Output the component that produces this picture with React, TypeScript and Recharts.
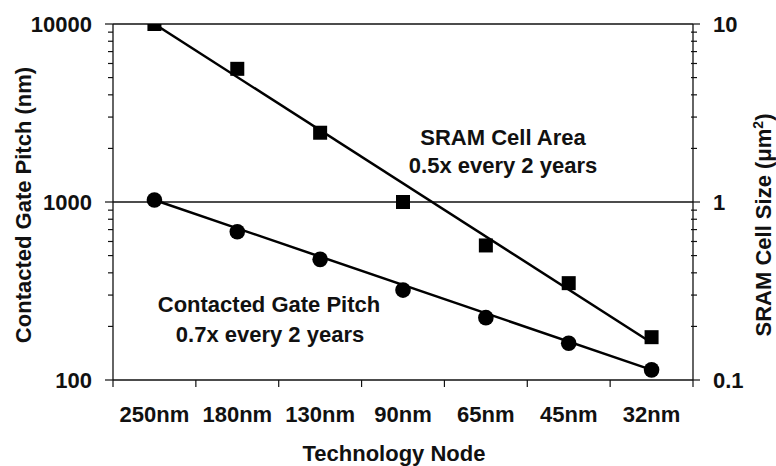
import { LineChart, Line, XAxis, YAxis, ReferenceLine } from "recharts";

const nodes = ["250nm", "180nm", "130nm", "90nm", "65nm", "45nm", "32nm"];
// SRAM cell size (um^2), right axis
const sramCellSize = [10, 5.6, 2.45, 1.0, 0.57, 0.35, 0.174];
// contacted gate pitch (nm), left axis
const gatePitch = [1026, 681, 476, 320, 224, 161, 114];
// fitted trend lines, only the end points
const sramTrend = [10, null, null, null, null, null, 0.162];
const pitchTrend = [1026, null, null, null, null, null, 114];

const pitchTicks = [100, 200, 300, 400, 500, 600, 700, 800, 900, 1000, 2000, 3000, 4000, 5000, 6000, 7000, 8000, 9000, 10000];
const sizeTicks = [0.1, 0.2, 0.3, 0.4, 0.5, 0.6, 0.7, 0.8, 0.9, 1, 2, 3, 4, 5, 6, 7, 8, 9, 10];
const nodeTicks = [-0.5, 0, 0.5, 1, 1.5, 2, 2.5, 3, 3.5, 4, 4.5, 5, 5.5, 6, 6.5];

const data = nodes.map((n, i) => ({
  i,
  sram: sramCellSize[i],
  pitch: gatePitch[i],
  sramFit: sramTrend[i],
  pitchFit: pitchTrend[i],
}));

const FONT = "'Liberation Sans', Arial, sans-serif";
const INK = "#111";
const FS = 22;

const isDecade = (v: number) => Math.abs(Math.log10(v) - Math.round(Math.log10(v))) < 1e-9;

const LeftTick = (props: any) => {
  const { x, y, payload } = props;
  const v = payload.value;
  const major = isDecade(v);
  return (
    <g>
      <line x1={x - (major ? 8 : 5)} x2={x} y1={y} y2={y} stroke={INK} strokeWidth={1.2} />
      {major && (
        <text x={x - 21} y={y} dy="0.36em" textAnchor="end" fontFamily={FONT} fontWeight="bold" fontSize={FS} fill={INK}>
          {v}
        </text>
      )}
    </g>
  );
};

const RightTick = (props: any) => {
  const { x, y, payload } = props;
  const v = payload.value;
  const major = isDecade(v);
  return (
    <g>
      <line x1={major ? x : x - 2} x2={major ? x + 7 : x + 4} y1={y} y2={y} stroke={INK} strokeWidth={1.2} />
      {major && (
        <text x={x + 20} y={y} dy="0.36em" textAnchor="start" fontFamily={FONT} fontWeight="bold" fontSize={FS} fill={INK}>
          {v}
        </text>
      )}
    </g>
  );
};

const BottomTick = (props: any) => {
  const { x, y, payload } = props;
  const v = payload.value;
  if (!Number.isInteger(v)) {
    return <line x1={x} x2={x} y1={y} y2={y + 7} stroke={INK} strokeWidth={1.2} />;
  }
  return (
    <text x={x} y={y + 42} textAnchor="middle" fontFamily={FONT} fontWeight="bold" fontSize={FS} fill={INK}>
      {nodes[v]}
    </text>
  );
};

const Square = (props: any) => {
  const { cx, cy, index } = props;
  if (cx == null || cy == null) return <g key={index} />;
  return <rect key={index} x={cx - 7} y={cy - 7} width={14} height={14} fill="#000" />;
};

const Circle = (props: any) => {
  const { cx, cy, index } = props;
  if (cx == null || cy == null) return <g key={index} />;
  return <circle key={index} cx={cx} cy={cy} r={7.8} fill="#000" />;
};

const txt = { fontFamily: FONT, fontWeight: "bold" as const, fontSize: FS, fill: INK };

export default function App() {
  return (
    <div style={{ position: "absolute", left: 0, top: 0, width: 776, height: 466, background: "#fff" }}>
      <LineChart width={776} height={466} data={data} margin={{ top: 24, right: 0, bottom: 0, left: 0 }}>
        <XAxis
          dataKey="i"
          type="number"
          domain={[-0.5, 6.5]}
          ticks={nodeTicks}
          interval={0}
          height={86}
          tickSize={0}
          tickMargin={0}
          tickLine={false}
          tick={<BottomTick />}
          axisLine={{ stroke: INK, strokeWidth: 1.3 }}
        />
        <YAxis
          yAxisId="pitch"
          scale="log"
          domain={[100, 10000]}
          allowDataOverflow
          ticks={pitchTicks}
          interval={0}
          width={113}
          tickSize={0}
          tickMargin={0}
          tickLine={false}
          tick={<LeftTick />}
          axisLine={{ stroke: INK, strokeWidth: 1.3 }}
        />
        <YAxis
          yAxisId="sram"
          orientation="right"
          scale="log"
          domain={[0.1, 10]}
          allowDataOverflow
          ticks={sizeTicks}
          interval={0}
          width={83}
          tickSize={0}
          tickMargin={0}
          tickLine={false}
          tick={<RightTick />}
          axisLine={{ stroke: INK, strokeWidth: 1.3 }}
        />
        <ReferenceLine yAxisId="pitch" y={10000} stroke={INK} strokeWidth={1.3} />
        <ReferenceLine yAxisId="pitch" y={1000} stroke={INK} strokeWidth={1.3} />

        <Line yAxisId="sram" dataKey="sramFit" connectNulls stroke="#000" strokeWidth={2.5} dot={false} activeDot={false} isAnimationActive={false} />
        <Line yAxisId="pitch" dataKey="pitchFit" connectNulls stroke="#000" strokeWidth={2.5} dot={false} activeDot={false} isAnimationActive={false} />
        <Line yAxisId="sram" dataKey="sram" stroke="none" dot={<Square />} activeDot={false} isAnimationActive={false} />
        <Line yAxisId="pitch" dataKey="pitch" stroke="none" dot={<Circle />} activeDot={false} isAnimationActive={false} />

        <text x={503} y={145} textAnchor="middle" {...txt}>SRAM Cell Area</text>
        <text x={503} y={173} textAnchor="middle" {...txt}>0.5x every 2 years</text>
        <text x={269} y={312} textAnchor="middle" {...txt}>Contacted Gate Pitch</text>
        <text x={270} y={342} textAnchor="middle" {...txt}>0.7x every 2 years</text>

        <text x={394} y={461} textAnchor="middle" {...txt}>Technology Node</text>
        <text x={31} y={205} textAnchor="middle" transform="rotate(-90 31 205)" {...txt}>Contacted Gate Pitch (nm)</text>
        <text x={771} y={225} textAnchor="middle" transform="rotate(-90 771 225)" {...txt}>
          SRAM Cell Size (μm<tspan dy={-8} fontSize={14}>2</tspan><tspan dy={8}>)</tspan>
        </text>
      </LineChart>
    </div>
  );
}
